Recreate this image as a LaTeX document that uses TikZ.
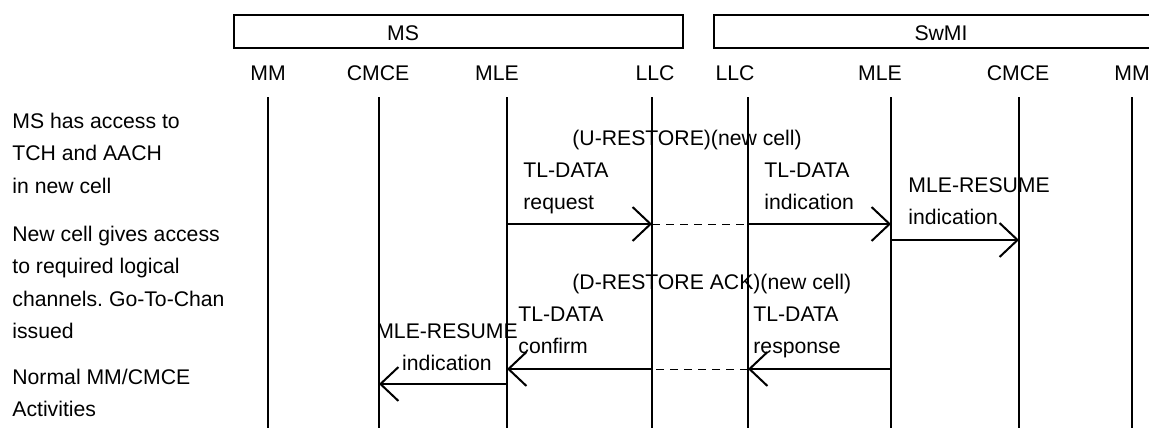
\documentclass[tikz,border=0pt]{standalone}
\usepackage{fontspec}
\setmainfont{Liberation Sans}
\usetikzlibrary{arrows.meta}
\frenchspacing

\tikzset{
  lbl/.style={inner sep=0pt, font=\fontsize{10.6}{16.25}\selectfont},
  life/.style={line width=1pt},
  msg/.style={line width=1pt, -{Straight Barb[length=9pt,width=17pt,line width=1pt]}},
  air/.style={line width=0.5pt, dash pattern=on 4pt off 3pt},
}

\begin{document}
\begin{tikzpicture}[x=0.5pt,y=-0.5pt]
    \clip (0,0) rectangle (1149,428);

    % Entity boxes
    \draw[line width=1pt] (234,15) rectangle (683,48);
    \draw[line width=1pt] (714,15) rectangle (1163,48);
    \node[lbl,anchor=base] (ms) at (403,40) {MS};
    \node[lbl,anchor=base] (swmi) at (941,40) {SwMI};

    % Layer names
    \foreach \n/\x/\t in {tMsMM/268/MM, tMsCMCE/378/CMCE, tMsMLE/497/MLE, tMsLLC/655/LLC,
                          tSwLLC/735/LLC, tSwMLE/880/MLE, tSwCMCE/1018/CMCE, tSwMM/1132/MM} {
        \node[lbl,anchor=base] (\n) at (\x,80) {\t};
    }

    % Lifelines
    \coordinate (bottom) at (0,428);
    \foreach \n/\x in {msMM/268, msCMCE/379, msMLE/507, msLLC/652,
                       swLLC/748, swMLE/891, swCMCE/1019, swMM/1132} {
        \coordinate (\n) at (\x,97);
        \draw[life] (\n) -- (\n |- bottom);
    }

    % Comments on the left (base = last line)
    \node[lbl,anchor=base west,align=left] (noteA) at (12,193) {MS has access to\\TCH and AACH\\in new cell};
    \node[lbl,anchor=base west,align=left] (noteB) at (12,338.5) {New cell gives access\\to required logical\\channels. Go-To-Chan\\issued};
    \node[lbl,anchor=base west,align=left] (noteC) at (12,416.5) {Normal MM/CMCE\\Activities};

    % Message rows
    \coordinate (rowA) at (0,224);
    \coordinate (rowB) at (0,240);
    \coordinate (rowC) at (0,369);
    \coordinate (rowD) at (0,384);

    % U-RESTORE
    \node[lbl,anchor=base west] (uRestore) at (572,145) {(U-RESTORE)(new cell)};
    \node[lbl,anchor=base west,align=left] (tlReq) at (523,209.5) {TL-DATA\\request};
    \node[lbl,anchor=base west,align=left] (tlInd) at (764,209.5) {TL-DATA\\indication};
    \node[lbl,anchor=base west,align=left] (resInd) at (908,224.5) {MLE-RESUME\\indication};
    \draw[msg] (msMLE |- rowA) -- (msLLC |- rowA);
    \draw[air] (msLLC |- rowA) -- (swLLC |- rowA);
    \draw[msg] (swLLC |- rowA) -- (swMLE |- rowA);
    \draw[msg] (swMLE |- rowB) -- (swCMCE |- rowB);

    % D-RESTORE ACK
    \node[lbl,anchor=base west] (dRestore) at (572,289) {(D-RESTORE ACK)(new cell)};
    \node[lbl,anchor=base west,align=left] (tlCon) at (518,353.5) {TL-DATA\\confirm};
    \node[lbl,anchor=base west,align=left] (tlRsp) at (753,353.5) {TL-DATA\\response};
    \node[lbl,anchor=base,align=center] (resCon) at (447,370.5) {MLE-RESUME\\indication};
    \draw[msg] (swMLE |- rowC) -- (swLLC |- rowC);
    \draw[air] (swLLC |- rowC) -- (msLLC |- rowC);
    \draw[msg] (msLLC |- rowC) -- (msMLE |- rowC);
    \draw[msg] (msMLE |- rowD) -- (msCMCE |- rowD);
\end{tikzpicture}
\end{document}
